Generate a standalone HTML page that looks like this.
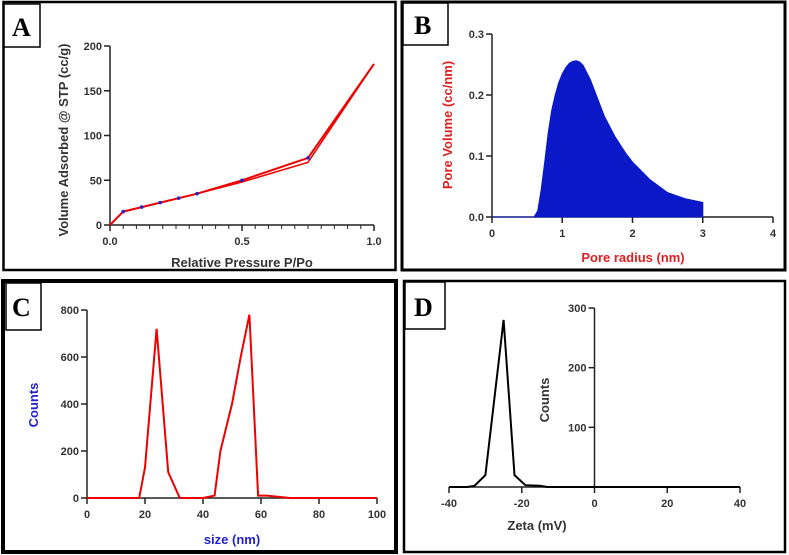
<!DOCTYPE html>
<html><head><meta charset="utf-8"><style>
body{margin:0;background:#fff;}
svg{display:block;font-family:"Liberation Sans",sans-serif;}
.tk{font-size:11px;font-weight:bold;fill:#333;}
.lb{font-family:"Liberation Serif",serif;font-weight:bold;font-size:26px;}
</style></head><body>
<svg id="s" width="789" height="555" viewBox="0 0 789 555">
<rect x="3.5" y="2" width="392" height="268" fill="none" stroke="#000" stroke-width="2.5"/>
<rect x="402" y="2" width="383" height="268" fill="none" stroke="#000" stroke-width="3"/>
<rect x="3" y="281" width="393" height="271" fill="none" stroke="#000" stroke-width="4"/>
<rect x="404" y="281" width="381" height="271" fill="none" stroke="#000" stroke-width="2.5"/>
<rect x="4" y="4" width="36" height="43" fill="#fff" stroke="#000" stroke-width="1.5"/>
<text class="lb" x="12" y="36">A</text>
<rect x="403" y="3" width="45" height="42" fill="#fff" stroke="#000" stroke-width="1.5"/>
<text class="lb" x="414" y="34">B</text>
<rect x="6" y="283" width="35" height="47" fill="#fff" stroke="#000" stroke-width="1.5"/>
<text class="lb" x="12" y="316">C</text>
<rect x="405" y="282" width="40" height="47" fill="#fff" stroke="#000" stroke-width="1.5"/>
<text class="lb" x="414" y="316">D</text>
<g id="g"></g>
</svg>
<script>
// Panel A data
const aAdsX=[0,0.05,0.12,0.19,0.26,0.33,0.5,0.75,1.0];
const aAdsY=[0,15,20,25,30,35,50,75,180];
const aDesX=[1.0,0.75,0.5,0.33,0.26,0.19,0.12,0.05];
const aDesY=[180,70,48,35,30,25,20,15];
const aXTicks=["0.0","0.5","1.0"];
const aYTicks=["0","50","100","150","200"];
// Panel B data
const bX=[0,0.6,0.65,0.7,0.75,0.8,0.85,0.9,0.95,1.0,1.05,1.1,1.15,1.2,1.25,1.3,1.4,1.5,1.6,1.75,1.9,2.0,2.25,2.5,2.75,3.0];
const bY=[0,0,0.01,0.045,0.09,0.138,0.175,0.2,0.22,0.235,0.245,0.252,0.255,0.256,0.254,0.248,0.225,0.195,0.165,0.132,0.105,0.09,0.061,0.04,0.03,0.024];
const bXTicks=["0","1","2","3","4"];
const bYTicks=["0.0","0.1","0.2","0.3"];
// Panel C data
const cX=[0,18,20,24,28,32,40,44,46,50,53,56,59,62,70,100];
const cY=[0,0,130,720,110,0,0,10,200,400,600,780,10,10,0,0];
const cXTicks=["0","20","40","60","80","100"];
const cYTicks=["0","200","400","600","800"];
// Panel D data
const dX=[-40,-35,-33,-30,-25,-22,-19,-15,-13,40];
const dY=[0,0,2,20,280,20,3,2,0,0];
const dXTicks=["-40","-20","0","20","40"];
const dYTicks=["100","200","300"];

const NS="http://www.w3.org/2000/svg";
const G=document.getElementById('g');
function mk(t,a,p){const e=document.createElementNS(NS,t);for(const k in a)e.setAttribute(k,a[k]);(p||G).appendChild(e);return e;}
function lin(d0,d1,r0,r1){return v=>r0+(v-d0)/(d1-d0)*(r1-r0);}
function axes(sx,sy,x0,x1,y0,y1,xt,yt,ax,minor){
  const X0=sx(x0),X1=sx(x1),Y0=sy(y0),Y1=sy(y1),AX=sx(ax);
  let e=mk('line',{x1:X0,x2:X1,y1:Y0,y2:Y0,stroke:'#222','stroke-width':1.5});
  
  
  e=mk('line',{x1:AX,x2:AX,y1:Y0,y2:Y1,stroke:'#222','stroke-width':1.5});
  
  
  xt.forEach(t=>{const v=parseFloat(t),x=sx(v);
    mk('line',{x1:x,x2:x,y1:Y0,y2:Y0+6,stroke:'#222','stroke-width':1.5});
    const tx=mk('text',{x:x,y:Y0+20,'text-anchor':'middle',class:'tk'});tx.textContent=t;
    
    });
  if(minor){for(let v=x0;v<=x1+1e-9;v+=minor){const x=sx(v);mk('line',{x1:x,x2:x,y1:Y0,y2:Y0+4,stroke:'#222','stroke-width':1});}}
  yt.forEach(t=>{const v=parseFloat(t),y=sy(v);
    mk('line',{x1:AX-6,x2:AX,y1:y,y2:y,stroke:'#222','stroke-width':1.5});
    const tx=mk('text',{x:AX-8,y:y+4,'text-anchor':'end',class:'tk'});tx.textContent=t;
    
    });
}
function pts(xs,ys,sx,sy){return xs.map((x,i)=>sx(x).toFixed(1)+','+sy(ys[i]).toFixed(1)).join(' ');}
function title(x,y,txt,col,rot,name){const t=mk('text',{x:x,y:y,'text-anchor':'middle','font-size':13,'font-weight':'bold',fill:col});
  if(rot)t.setAttribute('transform','rotate(-90 '+x+' '+y+')');t.textContent=txt;
  
  }

// A
let sx=lin(0,1,110,374),sy=lin(0,200,225,46);
axes(sx,sy,0,1,0,200,aXTicks,aYTicks,0,0.05);
let p=mk('polyline',{points:pts(aAdsX,aAdsY,sx,sy),fill:'none',stroke:'#e00','stroke-width':2});


p=mk('polyline',{points:pts(aDesX,aDesY,sx,sy),fill:'none',stroke:'#e00','stroke-width':1.5});


aAdsX.slice(1,8).forEach((x,i)=>{const c=mk('circle',{cx:sx(x),cy:sy(aAdsY[i+1]),r:1.8,fill:'#22c'});
  
  });
title(68,140,'Volume Adsorbed @ STP (cc/g)','#333',true,'y-axis-title-a');
title(242,267,'Relative Pressure  P/Po','#333',false,'x-axis-title-a');

// B
sx=lin(0,4,492,773);sy=lin(0,0.3,217,34);
axes(sx,sy,0,4,0,0.3,bXTicks,bYTicks,0,0);
p=mk('polygon',{points:pts(bX,bY,sx,sy)+' '+sx(3).toFixed(1)+','+sy(0),fill:'#0a18c8',stroke:'#0a18c8','stroke-width':1});


title(452,125,'Pore Volume (cc/nm)','#e02020',true,'y-axis-title-b');
title(633,262,'Pore radius (nm)','#e02020',false,'x-axis-title-b');

// C
sx=lin(0,100,87,377);sy=lin(0,800,498,310);
axes(sx,sy,0,100,0,800,cXTicks,cYTicks,0,0);
p=mk('polyline',{points:pts(cX,cY,sx,sy),fill:'none',stroke:'#e00','stroke-width':2});


title(38,405,'Counts','#2222cc',true,'y-axis-title-c');
title(232,544,'size (nm)','#2222cc',false,'x-axis-title-c');

// D
sx=lin(-40,40,449,740);sy=lin(0,300,487,308);
axes(sx,sy,-40,40,0,300,dXTicks,dYTicks,0,0);
p=mk('polyline',{points:pts(dX,dY,sx,sy),fill:'none',stroke:'#000','stroke-width':2});


title(549,400,'Counts','#333',true,'y-axis-title-d');
title(537,530,'Zeta (mV)','#333',false,'x-axis-title-d');
</script>
</body></html>
